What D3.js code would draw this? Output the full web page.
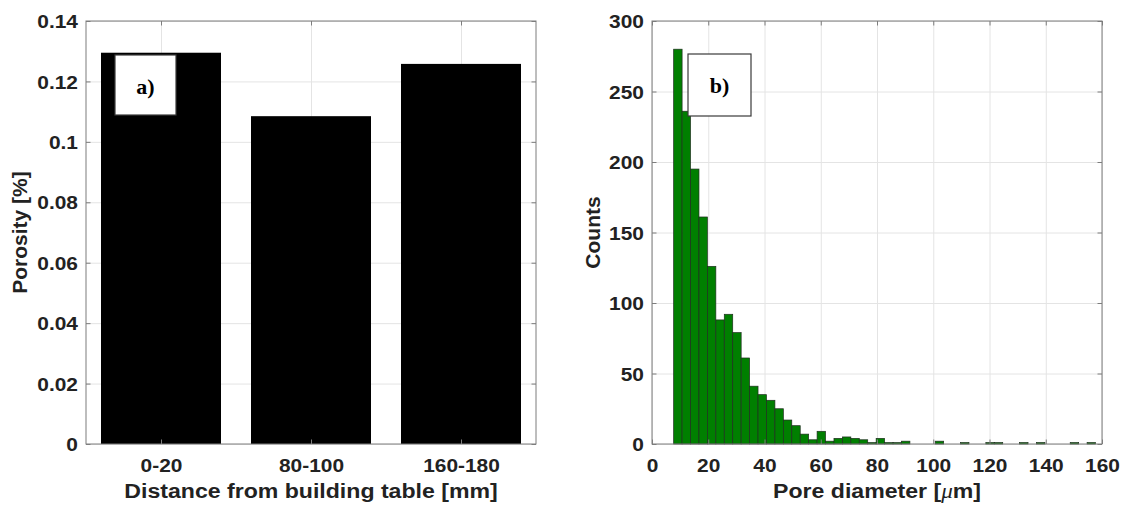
<!DOCTYPE html>
<html>
<head>
<meta charset="utf-8">
<script src="https://cdn.jsdelivr.net/npm/d3@7"></script>
<style>
  body { margin: 0; background: #fff; }
  svg { display: block; background: #fff; }
  text { font-family: "Liberation Sans", Arial, Helvetica, sans-serif; font-weight: bold; fill: #222; }
  .tick-label { font-size: 19px; }
  .axis-title { font-size: 21px; }
  .panel-tag { font-family: "Liberation Serif", "Times New Roman", serif; font-size: 22px; fill: #000; }
</style>
</head>
<body>
<svg id="fig" width="1124" height="505"></svg>
<script>
// Panel a): porosity for three height zones above the build plate
const zones = ["0-20", "80-100", "160-180"];
const porosity = [0.1295, 0.1085, 0.1258];
const porosityTicks = [0, 0.02, 0.04, 0.06, 0.08, 0.1, 0.12, 0.14];

// Panel b): pore diameter histogram (µm), fixed-width bins
const binStart = 7.7;
const binWidth = 3.0;
const poreCounts = [
  280, 236, 195, 161, 126, 88, 92, 79, 61, 41,
  35, 31, 25, 17, 13, 7, 3, 9, 2, 4,
  5, 4, 3, 1, 4, 1, 1, 2, 0, 0,
  0, 2, 0, 0, 1, 0, 0, 1, 1, 0,
  0, 1, 0, 1, 0, 0, 0, 1, 0, 1
];
const diameterTicks = [0, 20, 40, 60, 80, 100, 120, 140, 160];
const countTicks = [0, 50, 100, 150, 200, 250, 300];

const SX_TICK = 1.1;      // horizontal widening of tick lettering
const SX_TITLE = 1.1;     // horizontal widening of axis titles
const TICK = 4.5;         // inward tick length
const FRAME = "#7d7d7d";
const GRID = "#e4e4e4";

const svg = d3.select("#fig");

const frameA = { x0: 86, x1: 536, y0: 21, y1: 444 };
const frameB = { x0: 652, x1: 1102, y0: 21, y1: 444 };

const xA = d3.scaleBand().domain(zones).range([frameA.x0, frameA.x1]).paddingInner(0.2).paddingOuter(0.1);
// tick / grid positions sit at the band centres
const xAc = d3.scalePoint().domain(zones).range([frameA.x0, frameA.x1]).padding(0.5);
const yA = d3.scaleLinear().domain([0, 0.14]).range([frameA.y1, frameA.y0]);
const xB = d3.scaleLinear().domain([0, 160]).range([frameB.x0, frameB.x1]);
const yB = d3.scaleLinear().domain([0, 300]).range([frameB.y1, frameB.y0]);

function grid(g, f, x, y, xTicks, yTicks) {
  g.append("g")
    .attr("transform", `translate(0,${f.y1})`)
    .call(d3.axisBottom(x).tickValues(xTicks).tickSize(-(f.y1 - f.y0)).tickFormat(""))
    .call(a => a.select(".domain").remove())
    .call(a => a.selectAll("line").attr("stroke", GRID));
  g.append("g")
    .attr("transform", `translate(${f.x0},0)`)
    .call(d3.axisLeft(y).tickValues(yTicks).tickSize(-(f.x1 - f.x0)).tickFormat(""))
    .call(a => a.select(".domain").remove())
    .call(a => a.selectAll("line").attr("stroke", GRID));
}

function frameAndTicks(g, f, x, y, xTicks, yTicks, xFmt, yFmt) {
  g.append("rect")
    .attr("x", f.x0).attr("y", f.y0)
    .attr("width", f.x1 - f.x0).attr("height", f.y1 - f.y0)
    .attr("fill", "none").attr("stroke", FRAME).attr("stroke-width", 1);

  const left = g.append("g").attr("transform", `translate(${f.x0},0)`)
    .call(d3.axisLeft(y).tickValues(yTicks).tickSizeInner(-TICK).tickSizeOuter(0).tickFormat(yFmt));
  const right = g.append("g").attr("transform", `translate(${f.x1},0)`)
    .call(d3.axisRight(y).tickValues(yTicks).tickSizeInner(-TICK).tickSizeOuter(0).tickFormat(""));
  const bottom = g.append("g").attr("transform", `translate(0,${f.y1})`)
    .call(d3.axisBottom(x).tickValues(xTicks).tickSizeInner(-TICK).tickSizeOuter(0).tickFormat(xFmt));
  const top = g.append("g").attr("transform", `translate(0,${f.y0})`)
    .call(d3.axisTop(x).tickValues(xTicks).tickSizeInner(-TICK).tickSizeOuter(0).tickFormat(""));

  [left, right, bottom, top].forEach(a => {
    a.select(".domain").remove();
    a.attr("font-size", null).attr("font-family", null).style("color", FRAME);
  });

  left.selectAll("text")
    .attr("class", "tick-label")
    .attr("x", null).attr("dy", "0.35em")
    .attr("text-anchor", "end")
    .attr("transform", `translate(-8,0) scale(${SX_TICK},1)`);
  bottom.selectAll("text")
    .attr("class", "tick-label")
    .attr("y", null).attr("dy", null)
    .attr("text-anchor", "middle")
    .attr("transform", `translate(0,28) scale(${SX_TICK},1)`);
}

function hTitle(g, x, y, build) {
  const t = g.append("text").attr("class", "axis-title")
    .attr("text-anchor", "middle")
    .attr("transform", `translate(${x},${y}) scale(${SX_TITLE},1)`);
  build(t);
}

function vTitle(g, x, y, label) {
  g.append("text").attr("class", "axis-title")
    .attr("text-anchor", "middle")
    .attr("transform", `translate(${x},${y}) rotate(-90)`)
    .text(label);
}

function tagBox(g, x, y, w, h, label) {
  g.append("rect").attr("x", x).attr("y", y).attr("width", w).attr("height", h)
    .attr("fill", "#fff").attr("stroke", "#3a3a3a").attr("stroke-width", 1.2);
  g.append("text").attr("class", "panel-tag")
    .attr("x", x + w / 2).attr("y", y + 39).attr("text-anchor", "middle")
    .text(label);
}

// ---------- panel a ----------
const gA = svg.append("g");
grid(gA, frameA, xAc, yA, zones, porosityTicks);

gA.append("g").selectAll("rect")
  .data(zones.map((z, i) => ({ z, v: porosity[i] })))
  .join("rect")
  .attr("x", d => xA(d.z))
  .attr("width", xA.bandwidth())
  .attr("y", d => yA(d.v))
  .attr("height", d => yA(0) - yA(d.v))
  .attr("fill", "#000");

frameAndTicks(gA, frameA, xAc, yA, zones, porosityTicks, d => d, d => String(d));
hTitle(gA, (frameA.x0 + frameA.x1) / 2, 498, t => t.text("Distance from building table [mm]"));
vTitle(gA, 27, (frameA.y0 + frameA.y1) / 2, "Porosity [%]");
tagBox(gA, 115, 55, 61, 60, "a)");

// ---------- panel b ----------
const gB = svg.append("g");
grid(gB, frameB, xB, yB, diameterTicks, countTicks);

const bins = poreCounts.map((c, i) => ({
  x0: binStart + i * binWidth,
  x1: binStart + (i + 1) * binWidth,
  c
})).filter(b => b.c > 0);

gB.append("g").selectAll("rect")
  .data(bins)
  .join("rect")
  .attr("x", d => xB(d.x0))
  .attr("width", d => xB(d.x1) - xB(d.x0))
  .attr("y", d => yB(d.c))
  .attr("height", d => yB(0) - yB(d.c))
  .attr("fill", "#007f00")
  .attr("stroke", "#1f2f1f")
  .attr("stroke-width", 0.7);

frameAndTicks(gB, frameB, xB, yB, diameterTicks, countTicks, d => String(d), d => String(d));
hTitle(gB, (frameB.x0 + frameB.x1) / 2, 498, t => {
  t.append("tspan").text("Pore diameter [");
  t.append("tspan").style("font-family", "'Liberation Serif', 'Times New Roman', serif")
    .style("font-style", "italic").style("font-weight", "normal").text("\u03BC");
  t.append("tspan").text("m]");
});
vTitle(gB, 600, (frameB.y0 + frameB.y1) / 2, "Counts");
tagBox(gB, 688, 54, 63, 62, "b)");
</script>
</body>
</html>
